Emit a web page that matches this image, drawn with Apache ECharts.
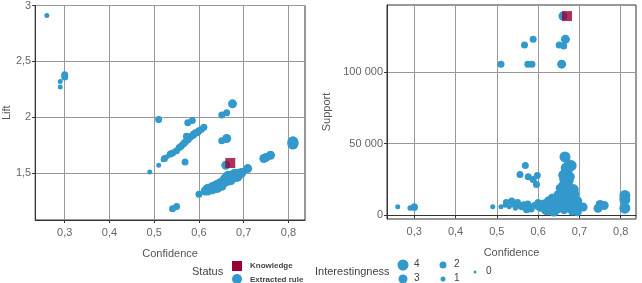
<!DOCTYPE html>
<html>
<head>
<meta charset="utf-8">
<script src="https://cdn.jsdelivr.net/npm/echarts@6/dist/echarts.min.js"></script>
<style>
  html, body { margin: 0; padding: 0; background: #fff; }
  #chart { width: 642px; height: 283px; }
</style>
</head>
<body>
<div id="chart"></div>
<script>
// extracted rules: confidence, lift, support, interestingness (0..4)
var confidence = [
  0.26, 0.29, 0.29, 0.30, 0.30,
  0.51, 0.575, 0.585, 0.651, 0.662, 0.675,
  0.49, 0.51, 0.569, 0.651, 0.662, 0.541, 0.55, 0.709, 0.745, 0.75, 0.76, 0.81, 0.81, 0.81, 0.66,
  0.52, 0.523, 0.53, 0.536, 0.541, 0.545, 0.55, 0.556, 0.56, 0.565, 0.567, 0.57, 0.572, 0.575, 0.576, 0.58, 0.583, 0.588, 0.588, 0.592, 0.596, 0.598, 0.60, 0.605, 0.611,
  0.60, 0.614, 0.62, 0.625, 0.63, 0.634, 0.638, 0.642, 0.646, 0.65, 0.654, 0.657, 0.66, 0.663, 0.666, 0.666, 0.67, 0.672, 0.675, 0.678, 0.68, 0.683, 0.686, 0.69, 0.693, 0.696, 0.64, 0.65, 0.66, 0.67, 0.68, 0.665, 0.685, 0.62, 0.63,
  0.668, 0.662, 0.674, 0.67, 0.676, 0.658, 0.688, 0.695
];
var lift = [
  2.91, 2.32, 2.27, 2.38, 2.36,
  1.98, 1.95, 1.97, 2.02, 2.04, 2.12,
  1.51, 1.57, 1.60, 1.79, 1.81, 1.18, 1.20, 1.54, 1.63, 1.64, 1.66, 1.76, 1.77, 1.78, 1.57,
  1.62, 1.63, 1.65, 1.67, 1.68, 1.69, 1.70, 1.73, 1.74, 1.76, 1.77, 1.78, 1.83, 1.80, 1.80, 1.82, 1.83, 1.84, 1.85, 1.86, 1.86, 1.87, 1.88, 1.89, 1.91,
  1.31, 1.34, 1.355, 1.36, 1.37, 1.38, 1.385, 1.40, 1.40, 1.41, 1.42, 1.43, 1.43, 1.44, 1.45, 1.48, 1.455, 1.46, 1.465, 1.47, 1.475, 1.48, 1.485, 1.49, 1.50, 1.505, 1.37, 1.39, 1.45, 1.44, 1.49, 1.47, 1.47, 1.33, 1.35,
  1.455, 1.445, 1.46, 1.45, 1.47, 1.43, 1.49, 1.50
];
var support = [
  6000, 5300, 5000, 6000, 5500,
  105300, 105300, 105300, 118700, 118000, 24000,
  6000, 6000, 34700, 19000, 25000, 8000, 7000, 5800, 5000, 7600, 6900, 5000, 11100, 13900, 138800,
  7000, 9000, 6000, 10000, 8000, 5000, 9000, 28500, 6000, 7500, 118700, 5500, 4000, 8000, 26900, 6000, 4500, 122600, 25000, 7000, 21500, 27800, 9000, 5000, 6500,
  6000, 8000, 4000, 10000, 6000, 12000, 3000, 8000, 5000, 11000, 7000, 105300, 13000, 4000, 16000, 122600, 9000, 22000, 6000, 27000, 12000, 3000, 15000, 8000, 5000, 10000, 9000, 14000, 20000, 30700, 34700, 40700, 18000, 7000, 3500,
  33000, 28000, 36000, 18000, 13000, 9000, 11000, 2500
];
var interest = [
  1, 1, 1, 2, 2,
  2, 2, 2, 2, 2, 3,
  1, 1, 2, 2, 3, 2, 2, 3, 3, 3, 3, 4, 4, 4, 3,
  1, 2, 1, 2, 2, 1, 2, 2, 2, 2, 2, 2, 2, 2, 2, 2, 2, 2, 2, 2, 2, 2, 2, 2, 2,
  2, 3, 4, 3, 4, 3, 4, 3, 4, 3, 4, 3, 4, 3, 4, 3, 4, 3, 4, 3, 4, 3, 4, 3, 3, 3, 4, 4, 4, 4, 4, 4, 4, 2, 3,
  4, 4, 3, 4, 4, 4, 4, 3
];

// the known rule (Knowledge)
var knowledgeConf = [0.67];
var knowledgeLift = [1.59];
var knowledgeSupport = [138800];

var xTicks = [0.3, 0.4, 0.5, 0.6, 0.7, 0.8];
var liftTicks = [1.5, 2, 2.5, 3];
var supportTicks = [0, 50000, 100000];
var legendLevels = [4, 3, 2, 1, 0];

var blue = '#3399cc';
var red = '#990033';
var sizes = [3, 5, 7, 9, 11];
var font = 'Liberation Sans, Arial, sans-serif';

var myChart = echarts.init(document.getElementById('chart'));

var liftData = [], supportData = [];
for (var i = 0; i < confidence.length; i++) {
  liftData.push([confidence[i], lift[i], interest[i]]);
  supportData.push([confidence[i], support[i], interest[i]]);
}
var knowLift = [], knowSupport = [];
for (var k = 0; k < knowledgeConf.length; k++) {
  knowLift.push([knowledgeConf[k], knowledgeLift[k]]);
  knowSupport.push([knowledgeConf[k], knowledgeSupport[k]]);
}

function comma(v) { return String(v).replace('.', ','); }
function spaced(v) { return String(v).replace(/\B(?=(\d{3})+(?!\d))/g, ' '); }

function xAxis(idx) {
  return {
    type: 'value', gridIndex: idx, min: 0.234, max: 0.837,
    name: 'Confidence', nameLocation: 'middle', nameGap: 28,
    nameTextStyle: { color: '#555', fontSize: 11, fontFamily: font },
    axisLine: { show: true, lineStyle: { color: '#333' } },
    axisTick: { show: true, length: 3, customValues: xTicks, lineStyle: { color: '#333' } },
    axisLabel: { customValues: xTicks, color: '#666', fontSize: 11, fontFamily: font, margin: 7, formatter: comma },
    splitLine: { show: true, lineStyle: { color: '#999', width: 1 } }
  };
}

function yAxis(idx, name, min, max, ticks, fmt, gap) {
  return {
    type: 'value', gridIndex: idx, min: min, max: max,
    name: name, nameLocation: 'middle', nameGap: gap, nameRotate: 90,
    nameTextStyle: { color: '#555', fontSize: 11, fontFamily: font },
    axisLine: { show: true, lineStyle: { color: '#333' } },
    axisTick: { show: true, length: 3, customValues: ticks, lineStyle: { color: '#333' } },
    axisLabel: { customValues: ticks, color: '#666', fontSize: 11, fontFamily: font, margin: 4, formatter: fmt },
    splitLine: { show: true, lineStyle: { color: '#999', width: 1 } }
  };
}

var legendGraphics = [
  { type: 'text', left: 192, top: 266, style: { text: 'Status', fill: '#444', font: '11px ' + font } },
  { type: 'rect', shape: { x: 232, y: 261, width: 10, height: 10 }, style: { fill: red } },
  { type: 'text', left: 250, top: 262, style: { text: 'Knowledge', fill: '#444', font: 'bold 8px ' + font } },
  { type: 'circle', shape: { cx: 237, cy: 279, r: 5 }, style: { fill: blue } },
  { type: 'text', left: 250, top: 276, style: { text: 'Extracted rule', fill: '#444', font: 'bold 8px ' + font } },
  { type: 'text', left: 315, top: 266, style: { text: 'Interestingness', fill: '#444', font: '11px ' + font } }
];
var legendPos = [[403, 265], [403, 279], [443, 265], [443, 279], [475, 272]];
for (var j = 0; j < legendLevels.length; j++) {
  var lv = legendLevels[j];
  legendGraphics.push({ type: 'circle', shape: { cx: legendPos[j][0], cy: legendPos[j][1], r: sizes[lv] / 2 }, style: { fill: blue } });
  legendGraphics.push({ type: 'text', left: legendPos[j][0] + 11, top: legendPos[j][1] - 6, style: { text: String(lv), fill: '#444', font: '10px ' + font } });
}

option = {
  backgroundColor: '#fff',
  animation: false,
  grid: [
    { left: 30, top: 5, width: 275, height: 215, show: true, borderColor: '#333', borderWidth: 1 },
    { left: 387, top: 5, width: 249, height: 214, show: true, borderColor: '#333', borderWidth: 1 }
  ],
  xAxis: [xAxis(0), xAxis(1)],
  yAxis: [
    yAxis(0, 'Lift', 1.08, 3.0, liftTicks, comma, 21),
    yAxis(1, 'Support', -2500, 146500, supportTicks, spaced, 55)
  ],
  graphic: legendGraphics,
  series: [
    {
      name: 'Extracted rule', type: 'scatter', xAxisIndex: 0, yAxisIndex: 0,
      data: liftData, symbol: 'circle',
      symbolSize: function (v) { return sizes[v[2]]; },
      itemStyle: { color: blue, opacity: 1 }
    },
    {
      name: 'Knowledge', type: 'scatter', xAxisIndex: 0, yAxisIndex: 0,
      data: knowLift, symbol: 'rect', symbolSize: 10, z: 5,
      itemStyle: { color: red }
    },
    {
      name: 'Extracted rule', type: 'scatter', xAxisIndex: 1, yAxisIndex: 1,
      data: supportData, symbol: 'circle',
      symbolSize: function (v) { return sizes[v[2]]; },
      itemStyle: { color: blue, opacity: 1 }
    },
    {
      name: 'Knowledge', type: 'scatter', xAxisIndex: 1, yAxisIndex: 1,
      data: knowSupport, symbol: 'rect', symbolSize: 10, z: 5,
      itemStyle: { color: red }
    }
  ]
};
myChart.setOption(option);
</script>
</body>
</html>
